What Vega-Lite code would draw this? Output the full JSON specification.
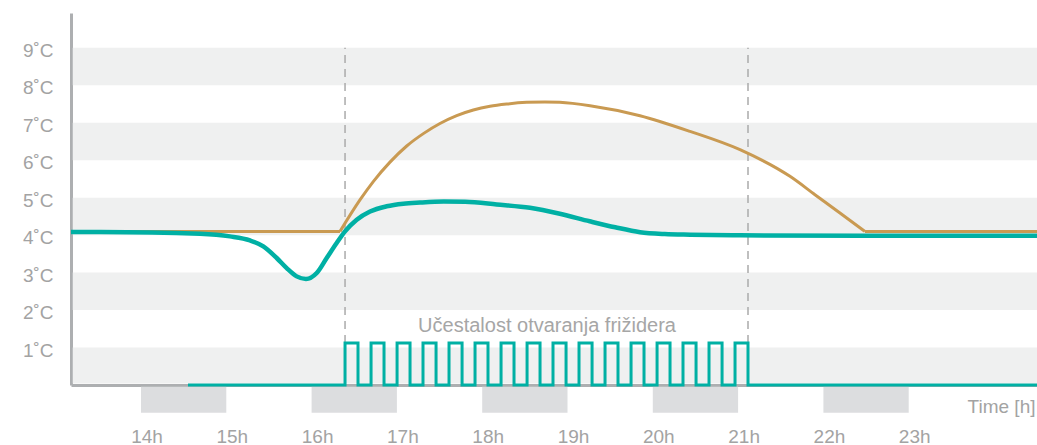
{
  "$schema": "https://vega.github.io/schema/vega-lite/v6.json",
  "width": 966,
  "height": 372,
  "autosize": "none",
  "padding": {"left": 71, "top": 13, "right": 0, "bottom": 60},
  "config": {"view": {"stroke": null}, "font": "Liberation Sans"},
  "layer": [
    {
      "data": {"values": [{"lo": 0.04, "hi": 1}, {"lo": 2, "hi": 3}, {"lo": 4, "hi": 5}, {"lo": 6, "hi": 7}, {"lo": 8, "hi": 9}]},
      "mark": {"type": "rect", "color": "#eff0f0"},
      "encoding": {
        "x": {"datum": 13.2, "type": "quantitative"},
        "x2": {"datum": 24.6},
        "y": {"field": "lo", "type": "quantitative", "scale": {"domain": [0, 9.93], "nice": false, "zero": false},
          "axis": {"values": [1, 2, 3, 4, 5, 6, 7, 8, 9], "labelExpr": "datum.value + '˚C'", "labelPadding": 18, "ticks": false, "tickSize": 0, "grid": false, "domainColor": "#adafb1", "domainWidth": 3, "labelColor": "#a3a3a3", "labelFontSize": 19, "labelOffset": 2.5, "labelBaseline": "middle", "title": null}},
        "y2": {"field": "hi"}
      }
    },
    {
      "data": {"values": [{"h0": 14, "h1": 15}, {"h0": 16, "h1": 17}, {"h0": 18, "h1": 19}, {"h0": 20, "h1": 21}, {"h0": 22, "h1": 23}]},
      "mark": {"type": "rect", "color": "#dcdddf"},
      "encoding": {
        "x": {"field": "h0", "type": "quantitative", "scale": {"domain": [13.1794, 24.504], "nice": false, "zero": false},
          "axis": {"values": [14, 15, 16, 17, 18, 19, 20, 21, 22, 23], "labelExpr": "datum.value + 'h'", "labelOffset": 5.5, "labelPadding": 42, "ticks": false, "tickSize": 0, "grid": false, "domainColor": "#adafb1", "domainWidth": 3, "labelColor": "#a3a3a3", "labelFontSize": 19, "labelFlush": false, "labelOverlap": false, "title": "Time [h]", "titleX": 964, "titleY": 27, "titleAlign": "right", "titleBaseline": "alphabetic", "titleFontWeight": "normal", "titleFontSize": 19, "titleColor": "#a3a3a3"}},
        "x2": {"field": "h1"},
        "y": {"datum": -0.045, "type": "quantitative"},
        "y2": {"datum": -0.74}
      }
    },
    {
      "data": {"values": [{"h": 16.392}, {"h": 21.116}]},
      "mark": {"type": "rule", "color": "#aaaaaa", "strokeWidth": 1.5, "strokeDash": [8, 6]},
      "encoding": {
        "x": {"field": "h", "type": "quantitative"},
        "y": {"datum": 0, "type": "quantitative"},
        "y2": {"datum": 9}
      }
    },
    {
      "data": {"values": [{"label": "Učestalost otvaranja frižidera"}]},
      "mark": {"type": "text", "color": "#a6a6a6", "fontSize": 20, "align": "center", "baseline": "alphabetic"},
      "encoding": {
        "x": {"datum": 18.76, "type": "quantitative"},
        "y": {"datum": 1.42, "type": "quantitative"},
        "text": {"field": "label"}
      }
    },
    {
      "data": {"values": [
        {"s": "a", "h": 13.1794, "v": 4.10}, {"s": "a", "h": 16.333, "v": 4.10},
        {"s": "b", "h": 16.333, "v": 4.10}, {"s": "b", "h": 16.567, "v": 4.94}, {"s": "b", "h": 16.723, "v": 5.43},
        {"s": "b", "h": 16.919, "v": 5.95}, {"s": "b", "h": 17.115, "v": 6.38}, {"s": "b", "h": 17.310, "v": 6.71},
        {"s": "b", "h": 17.505, "v": 6.98}, {"s": "b", "h": 17.701, "v": 7.19}, {"s": "b", "h": 17.896, "v": 7.34},
        {"s": "b", "h": 18.091, "v": 7.44}, {"s": "b", "h": 18.287, "v": 7.50}, {"s": "b", "h": 18.522, "v": 7.545},
        {"s": "b", "h": 18.736, "v": 7.557}, {"s": "b", "h": 18.909, "v": 7.547}, {"s": "b", "h": 19.264, "v": 7.456},
        {"s": "b", "h": 19.850, "v": 7.189}, {"s": "b", "h": 20.436, "v": 6.770}, {"s": "b", "h": 21.022, "v": 6.281},
        {"s": "b", "h": 21.608, "v": 5.569}, {"s": "b", "h": 21.901, "v": 5.080}, {"s": "b", "h": 22.194, "v": 4.592},
        {"s": "b", "h": 22.487, "v": 4.10},
        {"s": "c", "h": 22.487, "v": 4.10}, {"s": "c", "h": 24.504, "v": 4.10}
      ]},
      "mark": {"type": "line", "color": "#c99a52", "strokeWidth": 3, "interpolate": "monotone"},
      "encoding": {
        "x": {"field": "h", "type": "quantitative"},
        "y": {"field": "v", "type": "quantitative"},
        "detail": {"field": "s"}
      }
    },
    {
      "data": {"values": [
        {"h": 13.1794, "v": 4.084}, {"h": 13.519, "v": 4.083}, {"h": 14.692, "v": 4.035}, {"h": 15.043, "v": 3.967},
        {"h": 15.278, "v": 3.86}, {"h": 15.434, "v": 3.70}, {"h": 15.591, "v": 3.39}, {"h": 15.708, "v": 3.12},
        {"h": 15.825, "v": 2.90}, {"h": 15.934, "v": 2.83}, {"h": 16.060, "v": 2.99}, {"h": 16.177, "v": 3.39},
        {"h": 16.294, "v": 3.79}, {"h": 16.392, "v": 4.10}, {"h": 16.529, "v": 4.41}, {"h": 16.685, "v": 4.63},
        {"h": 16.880, "v": 4.77}, {"h": 17.075, "v": 4.84}, {"h": 17.271, "v": 4.87}, {"h": 17.55, "v": 4.895},
        {"h": 17.80, "v": 4.89}, {"h": 18.17, "v": 4.82}, {"h": 18.56, "v": 4.73}, {"h": 18.91, "v": 4.57},
        {"h": 19.26, "v": 4.37}, {"h": 19.56, "v": 4.21}, {"h": 19.85, "v": 4.08}, {"h": 20.14, "v": 4.03},
        {"h": 20.44, "v": 4.012}, {"h": 21.022, "v": 3.995}, {"h": 22.663, "v": 3.986}, {"h": 24.504, "v": 3.986}
      ]},
      "mark": {"type": "line", "color": "#00b0a4", "strokeWidth": 4.5, "interpolate": "monotone"},
      "encoding": {
        "x": {"field": "h", "type": "quantitative"},
        "y": {"field": "v", "type": "quantitative"}
      }
    },
    {
      "data": {"values": [
        {"h": 14.551, "v": 0},
        {"h": 16.392, "v": 1.12}, {"h": 16.544, "v": 0}, {"h": 16.697, "v": 1.12}, {"h": 16.849, "v": 0},
        {"h": 17.002, "v": 1.12}, {"h": 17.154, "v": 0}, {"h": 17.306, "v": 1.12}, {"h": 17.459, "v": 0},
        {"h": 17.611, "v": 1.12}, {"h": 17.764, "v": 0}, {"h": 17.916, "v": 1.12}, {"h": 18.068, "v": 0},
        {"h": 18.221, "v": 1.12}, {"h": 18.373, "v": 0}, {"h": 18.526, "v": 1.12}, {"h": 18.678, "v": 0},
        {"h": 18.830, "v": 1.12}, {"h": 18.983, "v": 0}, {"h": 19.135, "v": 1.12}, {"h": 19.288, "v": 0},
        {"h": 19.440, "v": 1.12}, {"h": 19.592, "v": 0}, {"h": 19.745, "v": 1.12}, {"h": 19.897, "v": 0},
        {"h": 20.050, "v": 1.12}, {"h": 20.202, "v": 0}, {"h": 20.354, "v": 1.12}, {"h": 20.507, "v": 0},
        {"h": 20.659, "v": 1.12}, {"h": 20.812, "v": 0}, {"h": 20.964, "v": 1.12}, {"h": 21.116, "v": 0},
        {"h": 24.504, "v": 0}
      ]},
      "mark": {"type": "line", "color": "#00b0a4", "strokeWidth": 3, "interpolate": "step-after"},
      "encoding": {
        "x": {"field": "h", "type": "quantitative"},
        "y": {"field": "v", "type": "quantitative"}
      }
    }
  ]
}
